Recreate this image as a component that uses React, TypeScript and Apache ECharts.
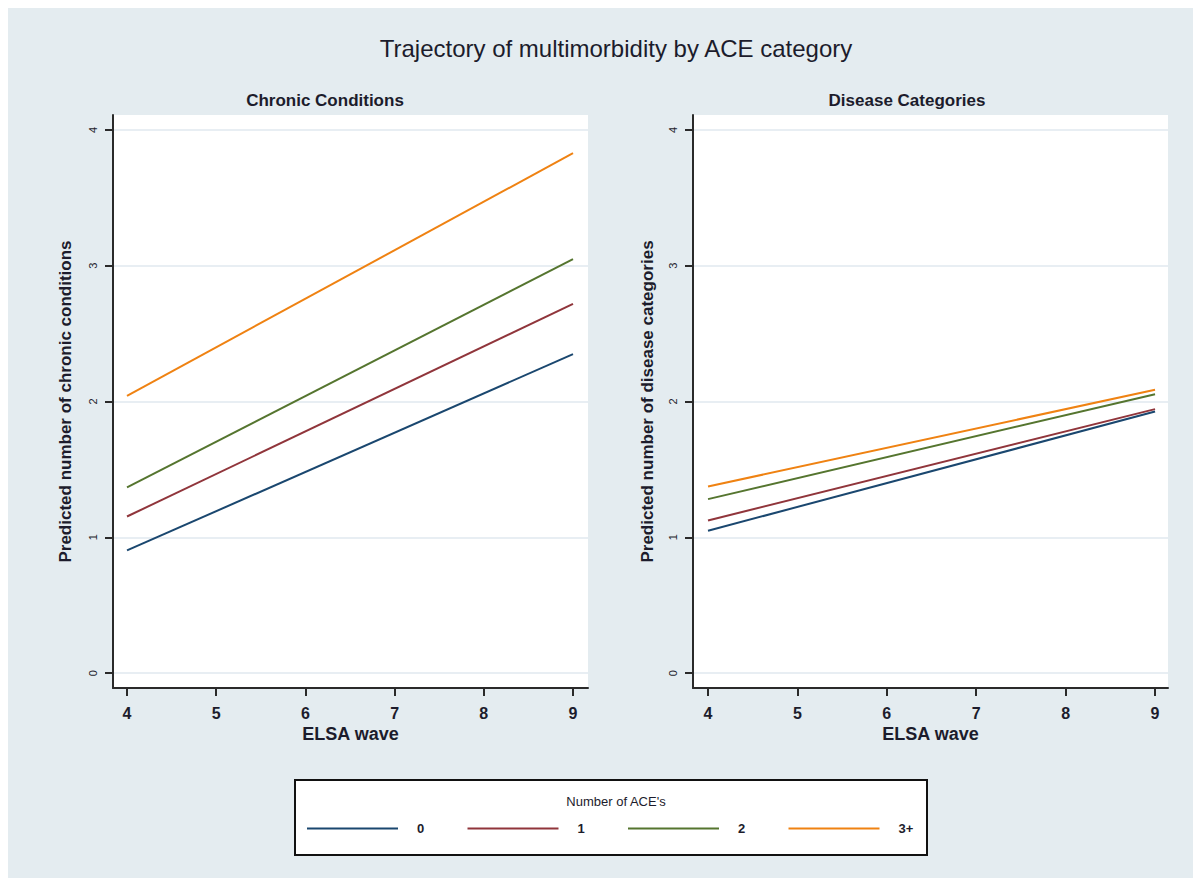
import React, { useEffect, useRef } from "react";
import * as echarts from "echarts";

const waves = [4, 9];
const aceGroups = ["0", "1", "2", "3+"];
const chronicValues = [
  [0.903, 2.349],
  [1.153, 2.719],
  [1.367, 3.049],
  [2.042, 3.829],
];
const diseaseValues = [
  [1.048, 1.926],
  [1.124, 1.944],
  [1.281, 2.054],
  [1.374, 2.086],
];
const yTicks = [0, 1, 2, 3, 4];
const xTicks = [4, 5, 6, 7, 8, 9];
const colors = ["#1a476f", "#90353b", "#55752f", "#ef8212"];

const FONT = "'Liberation Sans', Arial, sans-serif";
const TXT = "#1c1c2c";

export default function App() {
  const ref = useRef<HTMLDivElement>(null);
  useEffect(() => {
    if (!ref.current) return;
    const chart = echarts.init(ref.current, undefined, { renderer: "svg" });

    const mkX = (gi: number, min: number, max: number) => ({
      type: "value",
      gridIndex: gi,
      min,
      max,
      name: "ELSA wave",
      nameLocation: "middle",
      nameGap: 37,
      nameMoveOverlap: false,
      nameTextStyle: { fontSize: 18, fontWeight: "bold", color: TXT, fontFamily: FONT },
      axisLine: { show: true, onZero: false, lineStyle: { color: "#2a2a2a", width: 2 } },
      axisTick: { show: true, length: 8, customValues: xTicks, lineStyle: { color: "#2a2a2a", width: 2 } },
      axisLabel: { customValues: xTicks, fontSize: 16, fontWeight: "bold", margin: 17, color: TXT, fontFamily: FONT },
      splitLine: { show: false },
    });
    const mkY = (gi: number, name: string, gap: number) => ({
      type: "value",
      gridIndex: gi,
      min: -0.11,
      max: 4.11,
      name,
      nameLocation: "middle",
      nameGap: gap,
      nameMoveOverlap: false,
      nameTextStyle: { fontSize: 17, fontWeight: "bold", color: TXT, fontFamily: FONT },
      axisLine: { show: true, onZero: false, lineStyle: { color: "#2a2a2a", width: 2 } },
      axisTick: { show: true, length: 8, customValues: yTicks, lineStyle: { color: "#2a2a2a", width: 2 } },
      axisLabel: { customValues: yTicks, rotate: 90, fontSize: 11, margin: 15, color: TXT, fontFamily: FONT },
      splitLine: { show: true, lineStyle: { color: "#e1e9ef", width: 1.5 } },
    });

    const series: any[] = [];
    aceGroups.forEach((g, i) => {
      series.push({
        type: "line",
        name: g,
        xAxisIndex: 0,
        yAxisIndex: 0,
        data: waves.map((w, j) => [w, chronicValues[i][j]]),
        showSymbol: false,
        lineStyle: { color: colors[i], width: 2 },
        itemStyle: { color: colors[i] },
      });
      series.push({
        type: "line",
        name: g,
        xAxisIndex: 1,
        yAxisIndex: 1,
        data: waves.map((w, j) => [w, diseaseValues[i][j]]),
        showSymbol: false,
        lineStyle: { color: colors[i], width: 2 },
        itemStyle: { color: colors[i] },
      });
    });

    chart.setOption({
      animation: false,
      backgroundColor: "#e4ecf0",
      textStyle: { fontFamily: FONT },
      title: [
        {
          text: "Trajectory of multimorbidity by ACE category",
          left: 603,
          top: 23,
          textAlign: "center",
          textStyle: { fontSize: 24, fontWeight: "normal", color: TXT, fontFamily: FONT },
        },
        {
          text: "Chronic Conditions",
          left: 312,
          top: 79,
          textAlign: "center",
          textStyle: { fontSize: 17, fontWeight: "bold", color: TXT, fontFamily: FONT },
        },
        {
          text: "Disease Categories",
          left: 894,
          top: 79,
          textAlign: "center",
          textStyle: { fontSize: 17, fontWeight: "bold", color: TXT, fontFamily: FONT },
        },
        {
          text: "Number of ACE's",
          left: 603,
          top: 782,
          textAlign: "center",
          textStyle: { fontSize: 13, fontWeight: "normal", color: TXT, fontFamily: FONT },
        },
      ],
      graphic: [
        {
          type: "rect",
          shape: { x: 287, y: 772, width: 632, height: 75 },
          style: { fill: "#ffffff", stroke: "#111111", lineWidth: 2 },
          z: -1,
        },
      ],
      legend: aceGroups.map((g, i) => ({
        data: [g],
        left: 299 + i * 160.5,
        top: 814,
        padding: 0,
        icon: "rect",
        itemWidth: 91,
        itemHeight: 2,
        selectedMode: false,
        textStyle: { fontSize: 13, fontWeight: "bold", color: TXT, padding: [0, 0, 0, 14], fontFamily: FONT },
      })),
      grid: [
        { left: 105, top: 107, width: 475, height: 573, show: true, backgroundColor: "#ffffff", borderWidth: 0 },
        { left: 685, top: 107, width: 475, height: 573, show: true, backgroundColor: "#ffffff", borderWidth: 0 },
      ],
      xAxis: [mkX(0, 3.843, 9.168), mkX(1, 3.832, 9.145)],
      yAxis: [
        mkY(0, "Predicted number of chronic conditions", 39),
        mkY(1, "Predicted number of disease categories", 37),
      ],
      series,
    });
    return () => chart.dispose();
  }, []);
  return <div ref={ref} style={{ width: 1193, height: 870 }} />;
}
